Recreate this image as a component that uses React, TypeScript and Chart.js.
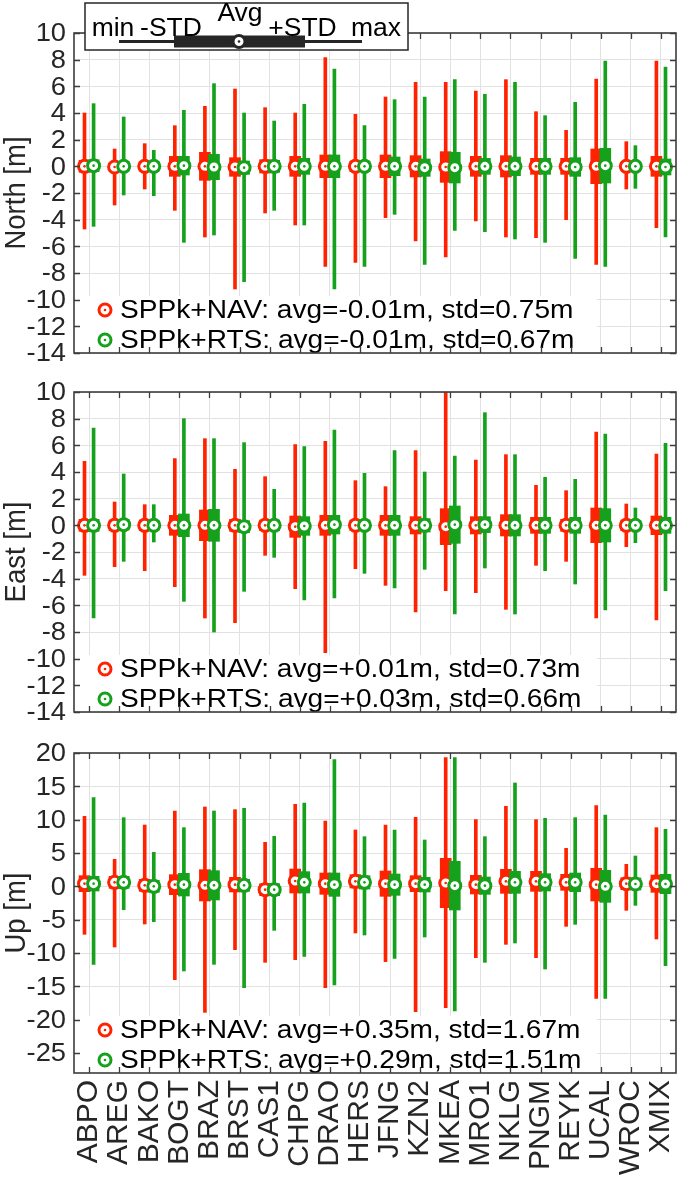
import React, { useEffect, useRef } from 'react';
import { Chart, registerables } from 'chart.js';

Chart.register(...registerables);

// ---------- data ----------
const stations = ['ABPO', 'AREG', 'BAKO', 'BOGT', 'BRAZ', 'BRST', 'CAS1', 'CHPG', 'DRAO', 'HERS',
  'JFNG', 'KZN2', 'MKEA', 'MRO1', 'NKLG', 'PNGM', 'REYK', 'UCAL', 'WROC', 'XMIX'];

const northTickValues = [10, 8, 6, 4, 2, 0, -2, -4, -6, -8, -10, -12, -14];
const eastTickValues = [10, 8, 6, 4, 2, 0, -2, -4, -6, -8, -10, -12, -14];
const upTickValues = [20, 15, 10, 5, 0, -5, -10, -15, -20, -25];

const northNavMax = [4.0, 1.3, 1.7, 3.05, 4.5, 5.8, 4.4, 4.0, 8.15, 3.9, 5.2, 6.3, 6.3, 5.65, 6.5, 4.1, 2.7, 6.55, 1.85, 7.9];
const northNavMin = [-4.7, -2.9, -1.7, -3.3, -5.3, -9.2, -3.5, -4.4, -7.5, -7.2, -3.85, -5.6, -6.8, -4.1, -5.3, -5.35, -4.0, -7.35, -1.7, -4.6];
const northNavAvg = [0, -0.05, 0, 0, 0, -0.05, 0, 0, 0, 0, 0, 0, -0.05, 0, 0, 0, 0, 0, 0, 0];
const northNavStd = [0.45, 0.35, 0.35, 0.75, 1.05, 0.7, 0.5, 0.75, 0.85, 0.4, 0.85, 0.8, 1.15, 0.75, 0.8, 0.6, 0.6, 1.3, 0.3, 0.75];

const northRtsMax = [4.7, 3.7, 1.2, 4.2, 6.2, 4.0, 3.4, 4.65, 7.3, 3.05, 5.0, 5.2, 6.5, 5.4, 6.3, 3.8, 4.8, 7.9, 1.55, 7.45];
const northRtsMin = [-4.5, -2.15, -2.2, -5.7, -5.15, -8.65, -3.3, -4.4, -9.2, -7.5, -3.6, -7.35, -4.8, -4.9, -5.45, -5.7, -6.9, -7.5, -1.65, -5.3];
const northRtsAvg = [0.05, 0, 0, 0.05, -0.05, -0.1, 0, 0, 0, 0, 0, -0.1, -0.1, 0, 0, 0, -0.05, 0.05, 0, -0.05];
const northRtsStd = [0.45, 0.35, 0.35, 0.7, 0.95, 0.5, 0.45, 0.6, 0.85, 0.4, 0.7, 0.65, 1.15, 0.6, 0.7, 0.6, 0.7, 1.3, 0.3, 0.6];

const eastNavMax = [4.8, 1.75, 1.55, 5.0, 6.5, 4.2, 3.65, 6.05, 6.3, 3.35, 2.9, 5.6, 10.0, 4.9, 5.3, 3.0, 2.6, 7.0, 1.6, 5.35];
const eastNavMin = [-3.75, -3.1, -3.4, -4.6, -6.95, -7.3, -2.25, -4.75, -9.55, -3.25, -4.5, -6.5, -4.9, -5.05, -6.3, -3.0, -2.7, -6.95, -1.6, -7.1];
const eastNavAvg = [0, 0, 0, 0, 0, 0, 0, -0.1, 0, 0, 0, 0, -0.1, 0, 0, 0, 0, 0, 0, 0];
const eastNavStd = [0.45, 0.4, 0.4, 0.75, 1.15, 0.45, 0.4, 0.8, 0.75, 0.4, 0.75, 0.65, 1.35, 0.65, 0.8, 0.6, 0.45, 1.3, 0.4, 0.7];

const eastRtsMax = [7.3, 3.85, 1.55, 8.0, 6.5, 6.2, 2.7, 5.9, 7.15, 3.9, 5.6, 4.0, 5.2, 8.45, 5.3, 3.6, 3.45, 6.85, 1.3, 6.15];
const eastRtsMin = [-6.95, -2.7, -1.25, -5.7, -8.0, -4.95, -2.4, -5.6, -5.45, -3.6, -4.7, -3.3, -6.65, -3.2, -6.65, -3.4, -4.4, -6.35, -1.3, -4.9];
const eastRtsAvg = [0, 0.05, 0, 0, 0, -0.1, 0, -0.05, 0.05, 0, 0, 0, 0.05, 0.05, 0, 0, 0, 0, 0, 0];
const eastRtsStd = [0.45, 0.4, 0.35, 0.85, 1.2, 0.45, 0.4, 0.7, 0.7, 0.4, 0.75, 0.5, 1.4, 0.6, 0.8, 0.6, 0.6, 1.25, 0.35, 0.6];

const upNavMax = [10.5, 4.05, 9.2, 11.3, 11.9, 11.5, 6.6, 12.3, 9.8, 8.45, 9.2, 10.35, 19.3, 10.0, 12.0, 10.0, 5.7, 12.1, 3.3, 8.8];
const upNavMin = [-7.2, -9.1, -5.65, -14.0, -18.9, -9.5, -11.4, -11.0, -15.2, -7.0, -11.3, -18.8, -18.2, -10.7, -8.7, -10.7, -6.0, -16.8, -3.6, -7.9];
const upNavAvg = [0.4, 0.6, 0.15, 0.25, 0.15, 0.25, -0.5, 0.8, 0.4, 0.75, 0.4, 0.4, 0.5, 0.25, 0.75, 0.75, 0.6, 0.25, 0.4, 0.4];
const upNavStd = [1.2, 0.9, 0.9, 1.5, 2.35, 1.1, 0.9, 1.8, 1.6, 1.0, 1.9, 1.2, 3.7, 1.4, 1.8, 1.5, 1.2, 2.45, 0.9, 1.3];

const upRtsMax = [13.3, 10.3, 5.1, 8.8, 11.3, 11.7, 7.5, 12.5, 19.0, 7.45, 8.45, 6.95, 19.3, 7.45, 15.5, 10.2, 10.3, 10.7, 4.55, 8.55];
const upRtsMin = [-11.7, -3.5, -5.3, -12.7, -11.7, -15.2, -6.6, -10.5, -14.8, -7.3, -10.8, -7.6, -18.7, -11.4, -8.5, -12.4, -5.7, -16.8, -2.85, -11.9];
const upRtsAvg = [0.4, 0.6, 0, 0.25, 0.15, 0.15, -0.5, 0.6, 0.25, 0.6, 0.25, 0.25, 0.1, 0.1, 0.6, 0.6, 0.6, 0, 0.35, 0.35];
const upRtsStd = [1.1, 0.9, 0.9, 1.7, 2.2, 0.9, 0.9, 1.6, 1.75, 1.0, 1.6, 1.1, 3.65, 1.3, 1.65, 1.3, 1.4, 2.4, 0.9, 1.45];

const northLegend = ['SPPk+NAV: avg=-0.01m, std=0.75m', 'SPPk+RTS: avg=-0.01m, std=0.67m'];
const eastLegend = ['SPPk+NAV: avg=+0.01m, std=0.73m', 'SPPk+RTS: avg=+0.03m, std=0.66m'];
const upLegend = ['SPPk+NAV: avg=+0.35m, std=1.67m', 'SPPk+RTS: avg=+0.29m, std=1.51m'];

const keyLabels = ['min', '-STD', 'Avg', '+STD', 'max'];

// ---------- style ----------
const RED = '#FF2200';
const GREEN = '#15A11C';
const GRID = '#e2e2e2';
const AXIS = '#3c3c3c';
const TEXT = '#262626';
const FONT = '"Liberation Sans", Arial, Helvetica, sans-serif';
const W = 685;
const MR = 6.0; // marker radius
const MLW = 3.0; // marker line width

const stationIndex = stations.map((_, i) => i);

function txt(ctx, s, x, y, size, align, baseline, color, sx = 1, rot = false) {
  ctx.save();
  ctx.translate(x, y);
  ctx.scale(sx, 1);
  if (rot) ctx.rotate(-Math.PI / 2);
  ctx.font = `${size}px ${FONT}`;
  ctx.textAlign = align;
  ctx.textBaseline = baseline;
  ctx.fillStyle = color;
  ctx.fillText(s, 0, 0);
  ctx.restore();
}

function marker(ctx, x, y, color) {
  ctx.save();
  ctx.beginPath();
  ctx.arc(x, y, MR, 0, Math.PI * 2);
  ctx.fillStyle = '#fff';
  ctx.fill();
  ctx.lineWidth = MLW;
  ctx.strokeStyle = color;
  ctx.stroke();
  ctx.beginPath();
  ctx.arc(x, y, 1.3, 0, Math.PI * 2);
  ctx.fillStyle = color;
  ctx.fill();
  ctx.restore();
}

const panels = [
  {
    key: 'north', title: 'North [m]', top: 0, height: 372, areaTop: 33, areaBottom: 353,
    yMin: -14, yMax: 10, ticks: northTickValues, legend: northLegend, showX: false, showKey: true,
    nav: { max: northNavMax, min: northNavMin, avg: northNavAvg, std: northNavStd },
    rts: { max: northRtsMax, min: northRtsMin, avg: northRtsAvg, std: northRtsStd },
  },
  {
    key: 'east', title: 'East [m]', top: 372, height: 360, areaTop: 20, areaBottom: 340,
    yMin: -14, yMax: 10, ticks: eastTickValues, legend: eastLegend, showX: false, showKey: false,
    nav: { max: eastNavMax, min: eastNavMin, avg: eastNavAvg, std: eastNavStd },
    rts: { max: eastRtsMax, min: eastRtsMin, avg: eastRtsAvg, std: eastRtsStd },
  },
  {
    key: 'up', title: 'Up [m]', top: 732, height: 446, areaTop: 21, areaBottom: 341,
    yMin: -28, yMax: 20, ticks: upTickValues, legend: upLegend, showX: true, showKey: false,
    nav: { max: upNavMax, min: upNavMin, avg: upNavAvg, std: upNavStd },
    rts: { max: upRtsMax, min: upRtsMin, avg: upRtsAvg, std: upRtsStd },
  },
];

function drawKey(ctx) {
  ctx.save();
  ctx.fillStyle = '#fff';
  ctx.fillRect(85, 3, 323, 47);
  ctx.lineWidth = 1.5;
  ctx.strokeStyle = TEXT;
  ctx.strokeRect(85, 3, 323, 47);
  ctx.beginPath();
  ctx.moveTo(119, 41.5);
  ctx.lineTo(362, 41.5);
  ctx.lineWidth = 3;
  ctx.strokeStyle = TEXT;
  ctx.stroke();
  ctx.fillStyle = TEXT;
  ctx.fillRect(174, 35.5, 131, 12);
  ctx.restore();
  marker(ctx, 239, 41.5, TEXT);
  const cx = [113, 171, 240, 302.5, 376];
  const by = [36, 36, 21, 36, 36];
  keyLabels.forEach((s, i) => txt(ctx, s, cx[i], by[i], 25, 'center', 'alphabetic', '#000', 1.06));
}

function Panel({ cfg }) {
  const ref = useRef(null);
  useEffect(() => {
    const canvas = ref.current;
    const H = cfg.height;
    const off = 0.151;
    const range = (s, dx) => stationIndex.map((i) => ({ x: i + dx, y: [s.min[i], s.max[i]] }));
    const box = (s, dx) => stationIndex.map((i) => ({ x: i + dx, y: [s.avg[i] - s.std[i], s.avg[i] + s.std[i]] }));
    const pts = (s, dx) => stationIndex.map((i) => ({ x: i + dx, y: s.avg[i] }));

    const series = (s, color, dx) => [
      { type: 'scatter', data: pts(s, dx), pointRadius: 1.3, pointHoverRadius: 1.3, pointBackgroundColor: color, pointBorderWidth: 0 },
      { type: 'scatter', data: pts(s, dx), pointRadius: MR, pointHoverRadius: MR, pointBackgroundColor: '#fff', pointBorderColor: color, pointBorderWidth: MLW },
      { type: 'bar', data: box(s, dx), backgroundColor: color, barThickness: 11, grouped: false, borderWidth: 0 },
      { type: 'bar', data: range(s, dx), backgroundColor: color, barThickness: 3, grouped: false, borderWidth: 0 },
    ];
    // first dataset is drawn on top: green above red
    const datasets = [...series(cfg.rts, GREEN, off), ...series(cfg.nav, RED, -off)];

    const deco = {
      id: 'deco',
      afterDatasetsDraw(chart) {
        const { ctx, chartArea: a, scales } = chart;
        const x = scales.x;
        const y = scales.y;
        ctx.save();
        ctx.fillStyle = '#fff';
        ctx.fillRect(a.left + 1, a.bottom - 57, 522, 56);
        ctx.restore();
        const rows = [a.bottom - 43, a.bottom - 13];
        const cols = [RED, GREEN];
        cfg.legend.forEach((s, i) => {
          marker(ctx, 105, rows[i], cols[i]);
          txt(ctx, s, 120, rows[i] + 1, 26, 'left', 'middle', '#000', 1.08);
        });
        ctx.save();
        ctx.strokeStyle = AXIS;
        ctx.lineWidth = 1.6;
        ctx.strokeRect(a.left, a.top, a.right - a.left, a.bottom - a.top);
        ctx.beginPath();
        stationIndex.forEach((i) => {
          const px = Math.round(x.getPixelForValue(i)) + 0.5;
          ctx.moveTo(px, a.top); ctx.lineTo(px, a.top + 6);
          ctx.moveTo(px, a.bottom); ctx.lineTo(px, a.bottom - 6);
        });
        cfg.ticks.forEach((v) => {
          const py = Math.round(y.getPixelForValue(v)) + 0.5;
          ctx.moveTo(a.left, py); ctx.lineTo(a.left + 6, py);
          ctx.moveTo(a.right, py); ctx.lineTo(a.right - 6, py);
        });
        ctx.lineWidth = 1.3;
        ctx.stroke();
        ctx.restore();
        cfg.ticks.forEach((v) => {
          txt(ctx, String(v), a.left - 8, y.getPixelForValue(v) + 1, 26, 'right', 'middle', TEXT, 1.05);
        });
        txt(ctx, cfg.title, 17, (a.top + a.bottom) / 2, 27.5, 'center', 'middle', TEXT, 1.05, true);
        if (cfg.showX) {
          stations.forEach((s, i) => {
            txt(ctx, s, x.getPixelForValue(i), a.bottom + 7, 30, 'right', 'middle', TEXT, 1, true);
          });
        }
        if (cfg.showKey) drawKey(ctx);
      },
    };

    const chart = new Chart(canvas, {
      type: 'bar',
      data: { datasets },
      options: {
        responsive: false,
        animation: false,
        devicePixelRatio: 1,
        events: [],
        layout: { padding: { top: cfg.areaTop, left: 0, right: 3, bottom: 0 } },
        plugins: { legend: { display: false }, tooltip: { enabled: false } },
        scales: {
          x: {
            type: 'linear', min: -0.5, max: 19.5, offset: false, stacked: false,
            afterBuildTicks: (s) => { s.ticks = stationIndex.map((v) => ({ value: v })); },
            grid: { color: GRID, lineWidth: 1, drawTicks: false, offset: false },
            border: { display: false },
            ticks: { display: false },
            afterFit: (s) => { s.height = H - cfg.areaBottom; },
          },
          y: {
            type: 'linear', min: cfg.yMin, max: cfg.yMax, stacked: false,
            afterBuildTicks: (s) => { s.ticks = cfg.ticks.map((v) => ({ value: v })); },
            grid: { color: GRID, lineWidth: 1, drawTicks: false },
            border: { display: false },
            ticks: { display: false },
            afterFit: (s) => { s.width = 74; },
          },
        },
      },
      plugins: [deco],
    });
    return () => chart.destroy();
  }, []);
  return (
    <canvas
      ref={ref}
      width={W}
      height={cfg.height}
      style={{ position: 'absolute', left: 0, top: cfg.top, width: W, height: cfg.height, display: 'block' }}
    />
  );
}

export default function App() {
  return (
    <div style={{ position: 'absolute', left: 0, top: 0, width: W, height: 1178, background: '#fff' }}>
      {panels.map((p) => <Panel key={p.key} cfg={p} />)}
    </div>
  );
}
